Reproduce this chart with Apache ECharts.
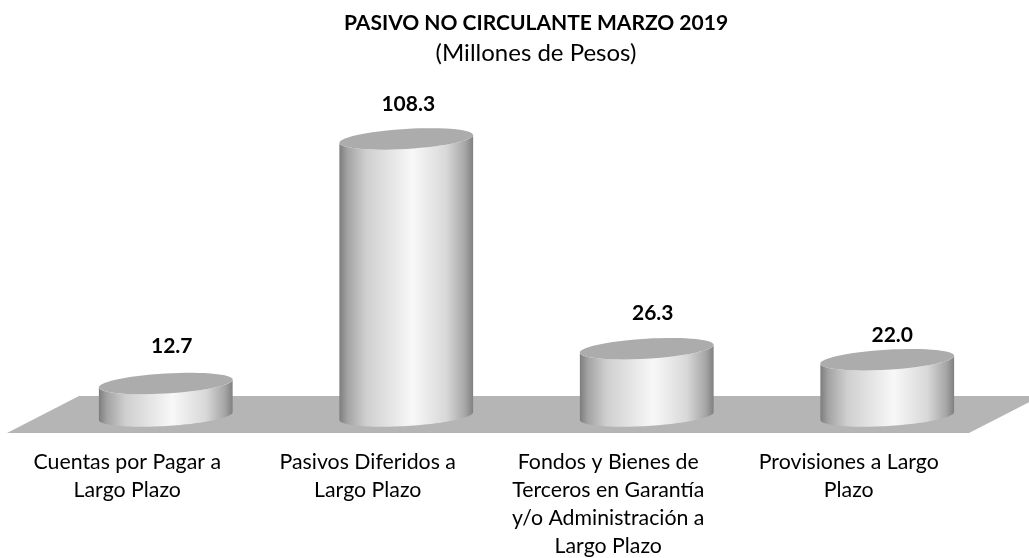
<!DOCTYPE html>
<html>
<head>
<meta charset="utf-8">
<style>
  html, body { margin: 0; padding: 0; background: #fff; }
  #chart { width: 1029px; height: 558px; }
</style>
<script src="https://cdn.jsdelivr.net/npm/echarts@6/dist/echarts.min.js"></script>
</head>
<body>
<div id="chart"></div>
<script>
const categories = [
  'Cuentas por Pagar a\nLargo Plazo',
  'Pasivos Diferidos a\nLargo Plazo',
  'Fondos y Bienes de\nTerceros en Garantía\ny/o Administración a\nLargo Plazo',
  'Provisiones a Largo\nPlazo'
]
const values = [12.7, 108.3, 26.3, 22.0]

// hand placed value labels, the source chart nudged them a bit
const labelNudge = [[6, -2], [2, 0], [6, 0], [5, 11]]

const FONT = 'Lato, "Open Sans", sans-serif'
const RX = 67
const RY = 10
const TILT = 3.4 * Math.PI / 180
// oblique offset of the cylinders and of the back edge of the floor
const BAR_SHIFT = [38.5, -17]
const FLOOR_SHIFT = [72, -37]

function ellipsePoints(cx, cy, from, to) {
  const pts = []
  for (let i = 0; i <= 60; i++) {
    const t = from + (to - from) * i / 60
    const ex = RX * Math.cos(t)
    const ey = RY * Math.sin(t)
    pts.push([
      cx + ex * Math.cos(TILT) + ey * Math.sin(TILT),
      cy - ex * Math.sin(TILT) + ey * Math.cos(TILT)
    ])
  }
  return pts
}

function renderFloor(params) {
  const g = params.coordSys
  const y = g.y + g.height
  return {
    type: 'polygon',
    shape: {
      points: [
        [g.x, y],
        [g.x + g.width, y],
        [g.x + g.width + FLOOR_SHIFT[0], y + FLOOR_SHIFT[1]],
        [g.x + FLOOR_SHIFT[0], y + FLOOR_SHIFT[1]]
      ]
    },
    style: { fill: '#b5b5b5' }
  }
}

function renderCylinder(params, api) {
  const idx = api.value(0)
  const top = api.coord([idx, api.value(1)])
  const base = api.coord([idx, 0])
  const cx = top[0] + BAR_SHIFT[0]
  const topY = top[1] + BAR_SHIFT[1]
  const baseY = base[1] + BAR_SHIFT[1]
  // side wall: upper half of top ellipse edge plus lower half of the base ellipse
  const side = ellipsePoints(cx, topY, Math.PI, 0).concat(ellipsePoints(cx, baseY, 0, Math.PI))
  const nudge = labelNudge[params.dataIndex]
  return {
    type: 'group',
    children: [
      {
        type: 'polygon',
        shape: { points: side },
        style: {
          fill: {
            type: 'linear', x: 0, y: 0, x2: 1, y2: 0,
            colorStops: [
              { offset: 0, color: '#7d7d7d' },
              { offset: 0.06, color: '#a3a3a3' },
              { offset: 0.2, color: '#cfcfcf' },
              { offset: 0.55, color: '#f8f8f8' },
              { offset: 0.8, color: '#d8d8d8' },
              { offset: 0.94, color: '#a6a6a6' },
              { offset: 1, color: '#808080' }
            ]
          }
        }
      },
      {
        type: 'polygon',
        shape: { points: ellipsePoints(cx, topY, 0, Math.PI * 2) },
        style: { fill: '#acacac' }
      },
      {
        type: 'text',
        style: {
          x: cx + nudge[0],
          y: topY - 35 + nudge[1],
          text: api.value(1).toFixed(1),
          fill: '#000',
          font: 'bold 21px ' + FONT,
          align: 'center',
          verticalAlign: 'middle'
        }
      }
    ]
  }
}

const chart = echarts.init(document.getElementById('chart'))
chart.setOption({
  animation: false,
  backgroundColor: '#fff',
  title: {
    text: 'PASIVO NO CIRCULANTE MARZO 2019',
    subtext: '(Millones de Pesos)',
    left: 531,
    top: 8,
    textAlign: 'center',
    itemGap: 7,
    textStyle: { fontFamily: FONT, fontWeight: 'bold', fontSize: 21, color: '#000' },
    subtextStyle: { fontFamily: FONT, fontSize: 24, color: '#000' }
  },
  // four line labels reach the page bottom, keep the grid from shrinking for them
  grid: { left: 7, top: 126, width: 962, height: 307, outerBoundsMode: 'none' },
  xAxis: {
    type: 'category',
    data: categories,
    axisLine: { show: false },
    axisTick: { show: false },
    axisLabel: {
      interval: 0,
      margin: 15,
      fontFamily: FONT,
      fontSize: 21.3,
      lineHeight: 28,
      color: '#000'
    }
  },
  yAxis: { type: 'value', min: 0, max: 120, show: false },
  series: [
    {
      type: 'custom',
      silent: true,
      z: 1,
      renderItem: renderFloor,
      data: [[0, 0]]
    },
    {
      type: 'custom',
      z: 2,
      renderItem: renderCylinder,
      clip: false,
      encode: { x: 0, y: 1 },
      data: values.map((v, i) => [i, v])
    }
  ]
})
</script>
</body>
</html>
